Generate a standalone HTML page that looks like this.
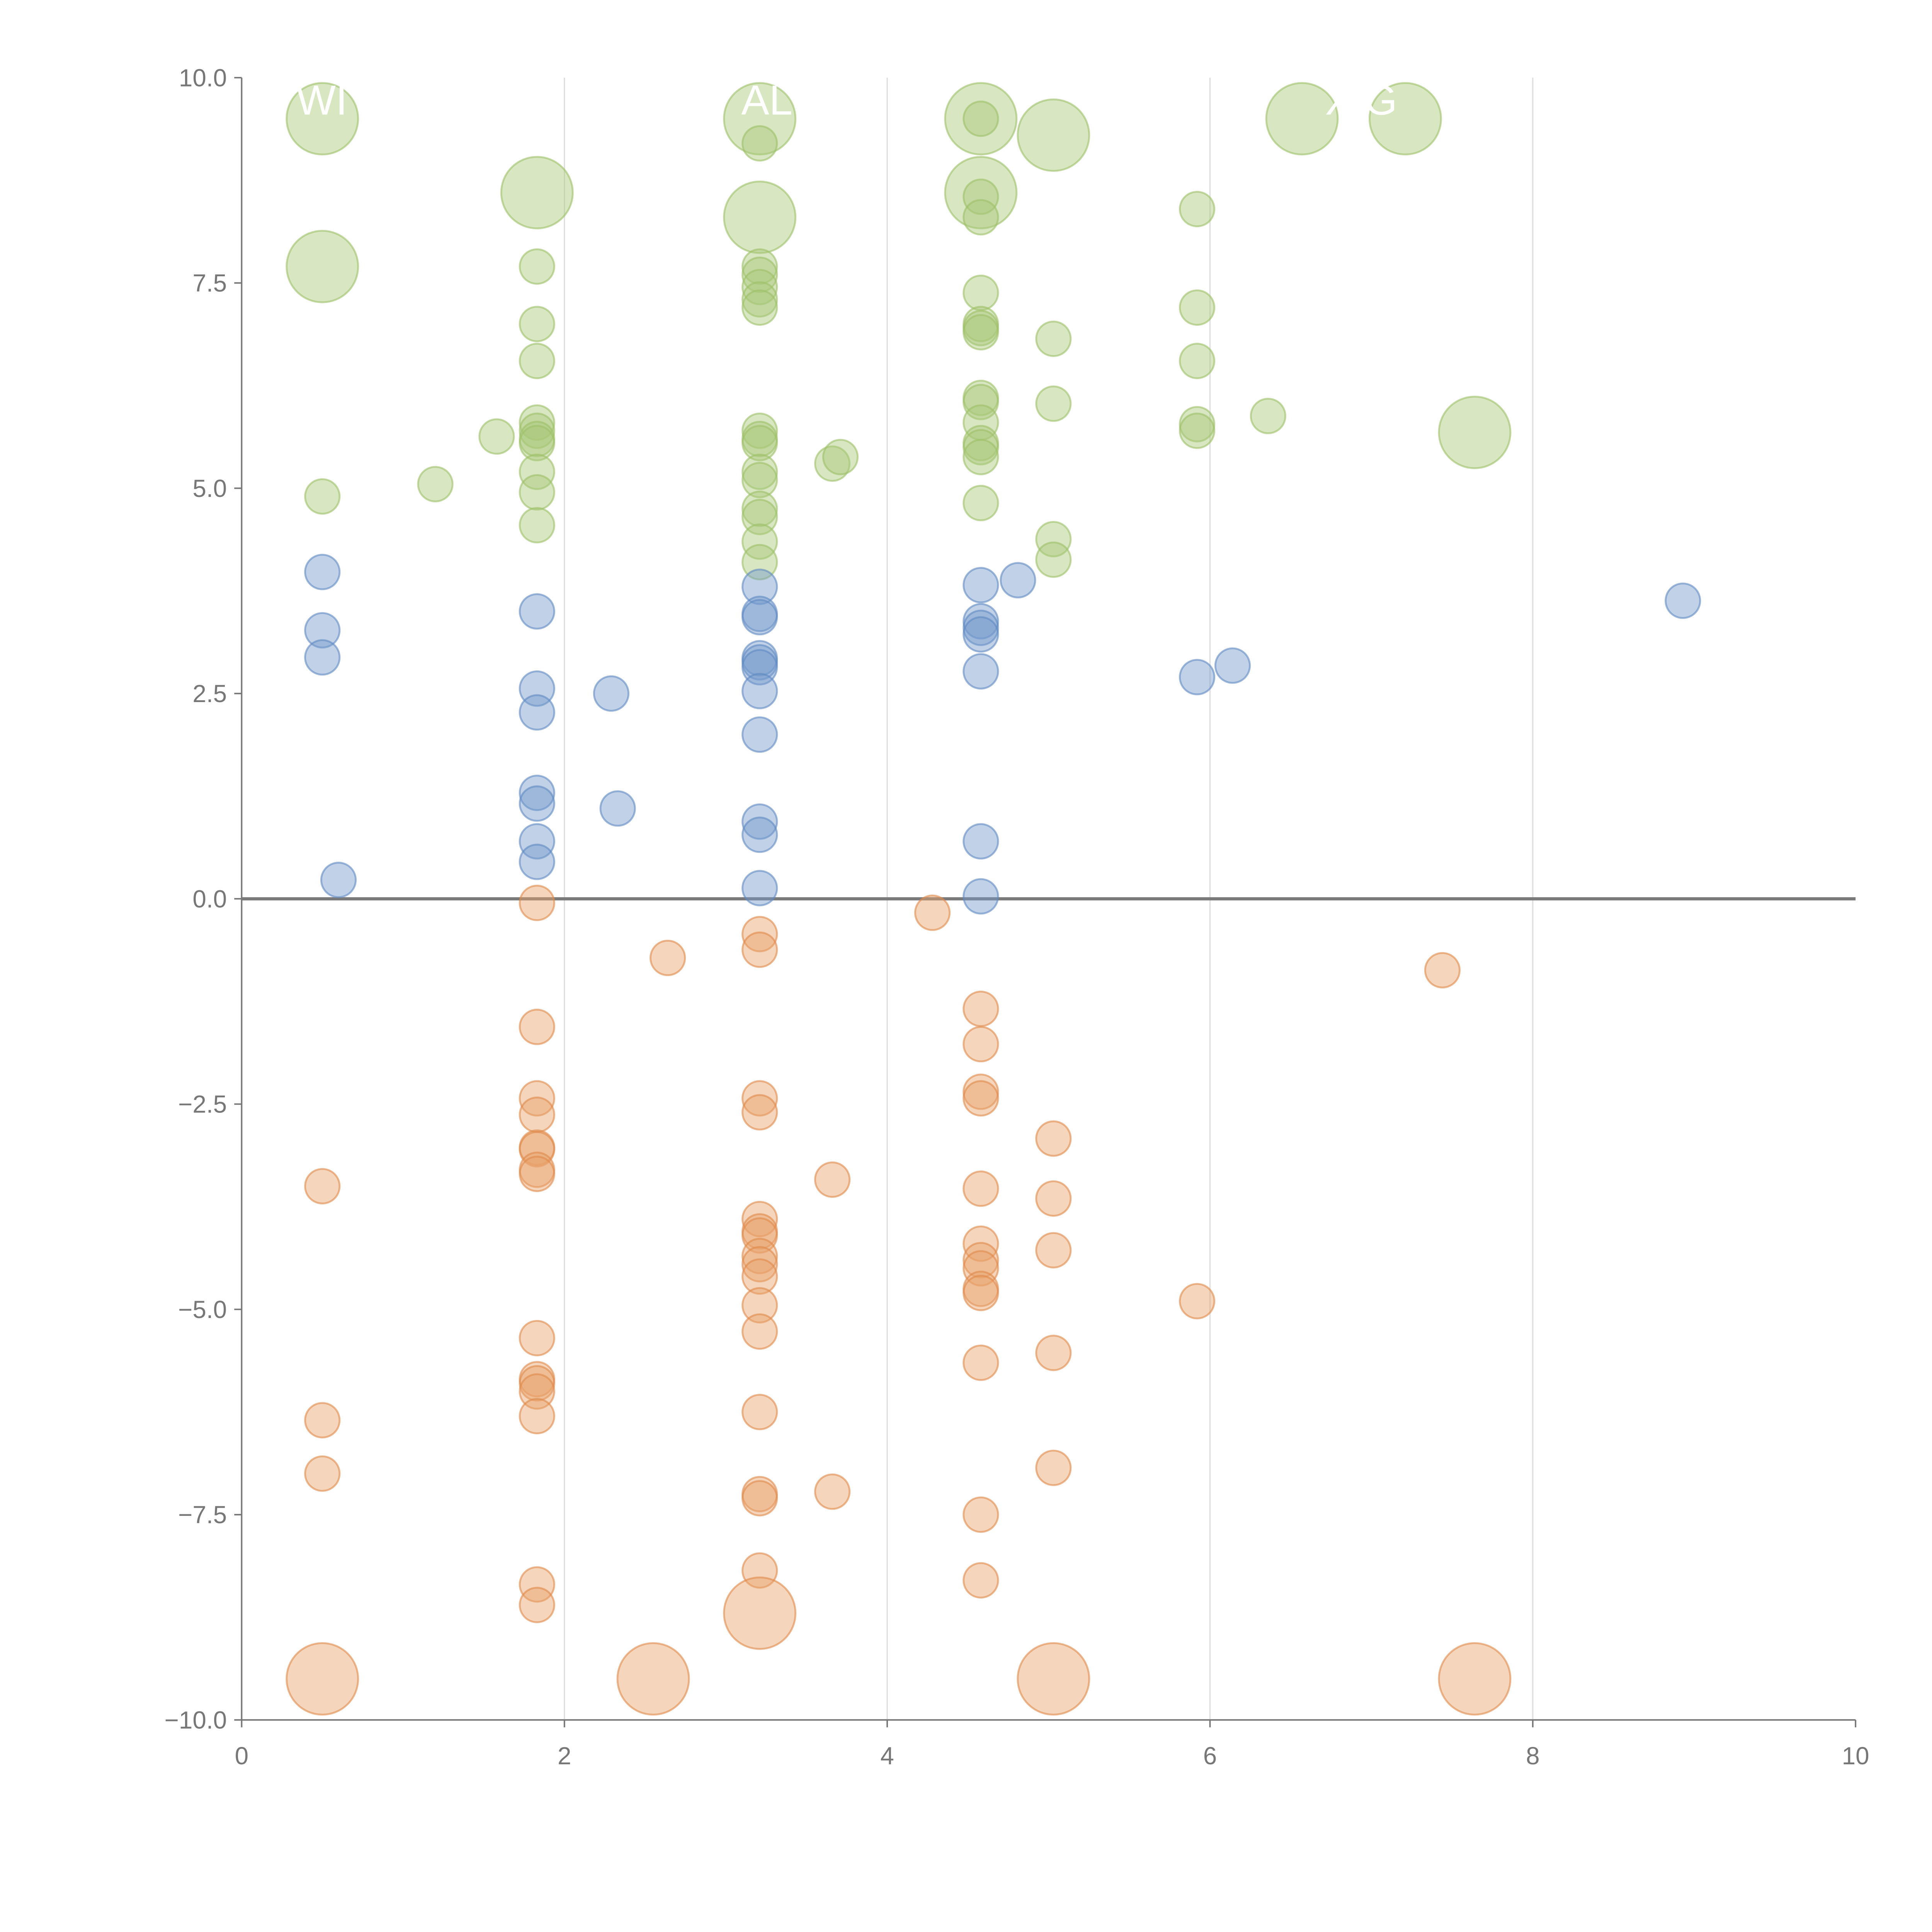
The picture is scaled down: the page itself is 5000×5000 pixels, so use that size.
<!DOCTYPE html>
<html><head><meta charset="utf-8">
<style>
html,body{margin:0;padding:0;background:#fff;}
svg{display:block;}
text{font-family:"Liberation Sans",Arial,sans-serif;}
</style></head>
<body>
<svg id="chart" width="5000" height="5000" viewBox="0 0 1567 1567" xmlns="http://www.w3.org/2000/svg">
<g id="grid"></g>
<g id="axes"></g>
<g id="marks"></g>
<g id="labels"></g>
</svg>
<script>
const xTicks=[0,2,4,6,8,10];
const yTicks=[10,7.5,5,2.5,0,-2.5,-5,-7.5,-10];
const yTickLabels=["10.0","7.5","5.0","2.5","0.0","\u22122.5","\u22125.0","\u22127.5","\u221210.0"];
const greenX=[0.5,0.5,0.5,1.2,1.58,1.83,1.83,1.83,1.83,1.83,1.83,1.83,1.83,1.83,1.83,1.83,
3.21,3.21,3.21,3.21,3.21,3.21,3.21,3.21,3.21,3.21,3.21,3.21,3.21,3.21,3.21,3.21,3.21,3.66,3.71,
4.58,4.58,4.58,4.58,4.58,4.58,4.58,4.58,4.58,4.58,4.58,4.58,4.58,4.58,4.58,4.58,
5.03,5.03,5.03,5.03,5.03,5.92,5.92,5.92,5.92,5.92,6.36,6.57,7.21,7.64];
const greenY=[9.5,7.7,4.9,5.05,5.63,8.6,7.7,7.0,6.55,5.8,5.7,5.6,5.55,5.2,4.95,4.55,
9.5,9.2,8.3,7.7,7.6,7.45,7.3,7.2,5.7,5.6,5.55,5.2,5.1,4.75,4.65,4.35,4.1,5.3,5.38,
9.5,9.5,8.6,8.55,8.3,7.38,7.0,6.95,6.9,6.1,6.05,5.8,5.55,5.5,5.38,4.82,
9.3,6.82,6.03,4.38,4.13,8.4,7.2,6.55,5.78,5.7,5.88,9.5,9.5,5.68];
const greenS=[2,2,1,1,1,2,1,1,1,1,1,1,1,1,1,1,
2,1,2,1,1,1,1,1,1,1,1,1,1,1,1,1,1,1,1,
2,1,2,1,1,1,1,1,1,1,1,1,1,1,1,1,
2,1,1,1,1,1,1,1,1,1,1,2,2,2];
const blueX=[0.5,0.5,0.5,0.6,1.83,1.83,1.83,1.83,1.83,1.83,1.83,2.29,2.33,
3.21,3.21,3.21,3.21,3.21,3.21,3.21,3.21,3.21,3.21,3.21,
4.58,4.58,4.58,4.58,4.58,4.58,4.58,4.81,5.92,6.14,8.93];
const blueY=[3.98,3.27,2.94,0.23,3.5,2.56,2.27,1.29,1.16,0.7,0.45,2.5,1.1,
3.8,3.47,3.43,2.93,2.88,2.82,2.53,2.0,0.94,0.78,0.13,
3.82,3.38,3.3,3.22,2.77,0.7,0.03,3.88,2.7,2.84,3.63];
const orangeX=[0.5,0.5,0.5,0.5,
1.83,1.83,1.83,1.83,1.83,1.83,1.83,1.83,1.83,1.83,1.83,1.83,1.83,1.83,1.83,
2.55,2.64,
3.21,3.21,3.21,3.21,3.21,3.21,3.21,3.21,3.21,3.21,3.21,3.21,3.21,3.21,3.21,3.21,3.21,
3.66,3.66,4.28,
4.58,4.58,4.58,4.58,4.58,4.58,4.58,4.58,4.58,4.58,4.58,4.58,4.58,
5.03,5.03,5.03,5.03,5.03,5.03,5.92,7.44,7.64];
const orangeY=[-3.5,-6.35,-7.0,-9.5,
-0.05,-1.56,-2.43,-2.63,-3.03,-3.05,-3.3,-3.35,-5.35,-5.85,-5.9,-6.0,-6.3,-8.35,-8.6,
-9.5,-0.72,
-0.43,-0.62,-2.43,-2.6,-3.9,-4.05,-4.1,-4.35,-4.45,-4.6,-4.95,-5.27,-6.25,-7.25,-7.3,-8.18,-8.7,
-3.42,-7.22,-0.17,
-1.34,-1.77,-2.35,-2.43,-3.53,-4.2,-4.4,-4.5,-4.75,-4.8,-5.65,-7.5,-8.3,
-2.92,-3.65,-4.28,-5.53,-6.93,-9.5,-4.9,-0.87,-9.5];
const orangeS=[1,1,1,2, 1,1,1,1,1,1,1,1,1,1,1,1,1,1,1, 2,1,
1,1,1,1,1,1,1,1,1,1,1,1,1,1,1,1,2, 1,1,1, 1,1,1,1,1,1,1,1,1,1,1,1,1, 1,1,1,1,1,2,1,1,2];

const NS="http://www.w3.org/2000/svg";
const X0=196,X1=1505,Y0=1395,Y1=63;
function sx(v){return X0+(v-0)/(10-0)*(X1-X0);}
function sy(v){return Y0-(v+10)/20*(Y0-Y1);}
function el(tag,attrs,parent){const e=document.createElementNS(NS,tag);for(const k in attrs)e.setAttribute(k,attrs[k]);parent.appendChild(e);return e;}

const grid=document.getElementById('grid'),axes=document.getElementById('axes'),marks=document.getElementById('marks'),labels=document.getElementById('labels');
xTicks.forEach(t=>{
  if(t>0&&t<10){const g=el('line',{x1:sx(t),x2:sx(t),y1:Y1,y2:Y0,stroke:'#dddddd','stroke-width':1},grid);
  
  }
  const tk=el('line',{x1:sx(t),x2:sx(t),y1:Y0,y2:Y0+6,stroke:'#777','stroke-width':1.2},axes);
  
  
  const tx=el('text',{x:sx(t),y:Y0+36,'text-anchor':'middle','font-size':20,fill:'#777'},axes);
  
  
  tx.textContent=String(t);
});
yTicks.forEach((t,i)=>{
  const tk=el('line',{x1:X0-6,x2:X0,y1:sy(t),y2:sy(t),stroke:'#777','stroke-width':1.2},axes);
  
  
  const tx=el('text',{x:X0-12,y:sy(t)+7,'text-anchor':'end','font-size':20,fill:'#777'},axes);
  
  
  tx.textContent=yTickLabels[i];
});
const ya=el('line',{x1:X0,x2:X0,y1:Y1,y2:Y0,stroke:'#777','stroke-width':1.2},axes);


const xa=el('line',{x1:X0,x2:X1,y1:Y0,y2:Y0,stroke:'#777','stroke-width':1.2},axes);


const zl=el('line',{x1:X0,x2:X1,y1:sy(0),y2:sy(0),stroke:'#7a7a7a','stroke-width':2.6},axes);



function draw(xs,ys,ss,fill,stroke,name){
  xs.forEach((x,i)=>{
    const r=(ss&&ss[i]===2)?29:14;
    const c=el('circle',{cx:sx(x),cy:sy(ys[i]),r:r,fill:fill,'fill-opacity':0.45,stroke:stroke,'stroke-opacity':0.6,'stroke-width':1.5},marks);
    
    
  });
}
draw(greenX,greenY,greenS,'#a9c878','#9cbf68','green-bubble');
draw(blueX,blueY,null,'#7399cc','#5f89c2','blue-bubble');
draw(orangeX,orangeY,orangeS,'#e8a26a','#e0894a','orange-bubble');

const lbl=[["WI",261,93],["AL",622,93],["X G",1104,93]];
lbl.forEach(l=>{
  const t=el('text',{x:l[1],y:l[2],'text-anchor':'middle','font-size':34,fill:'#ffffff'},labels);
  
  
  t.textContent=l[0];
});
</script>
</body></html>
